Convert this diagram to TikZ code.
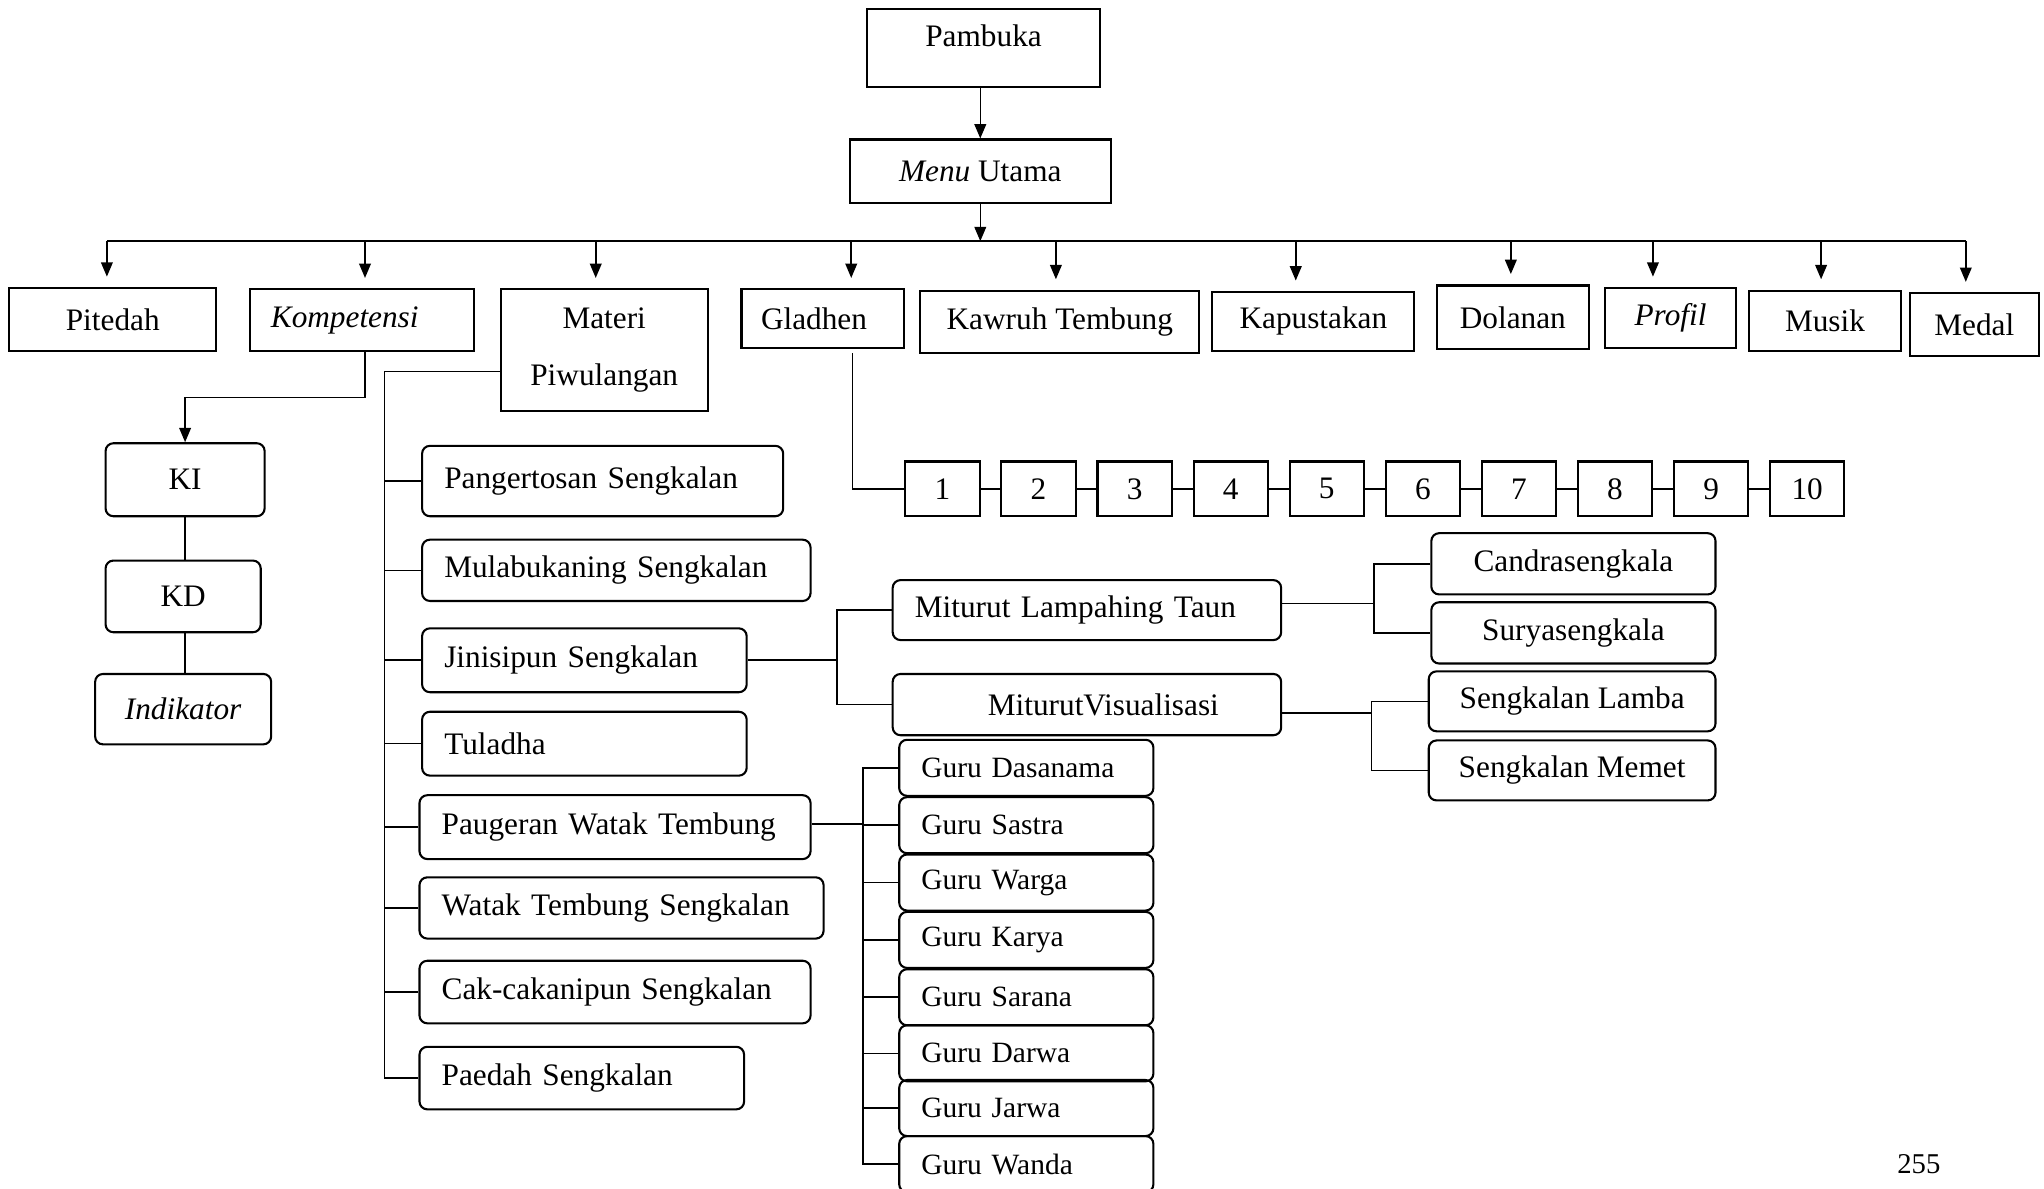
\documentclass[tikz,border=0pt]{standalone}
\usepackage{fontspec}
\setmainfont{Liberation Serif}
\usepackage{tikz}
\usetikzlibrary{
  arrows.meta,
  positioning,
  calc
}
\tikzset{
  menubox/.style={draw, line width=0.8pt, inner sep=2pt, font=\fontsize{12}{14.5}\selectfont},
  subbox/.style={menubox, rounded corners=3pt},
  leftbox/.style={subbox, anchor=west, align=left, inner xsep=8.5pt},
  gurubox/.style={leftbox, font=\fontsize{11.3}{13}\selectfont, minimum height=21.5pt, text width=80.5pt},
  numbox/.style={menubox, minimum width=28.5pt, minimum height=21pt},
  conn/.style={line width=0.6pt},
  arr/.style={conn, -{Triangle[length=5.5pt,width=4.5pt]}}
}

\begin{document}
\begin{tikzpicture}[x=0.5pt, y=-0.5pt]
\useasboundingbox (0,0) rectangle (1568,912);

% menu utama
\node[menubox, minimum width=89.5pt, text height=10pt, text depth=11pt, inner ysep=4.5pt] (pambuka) at (754.5,37) {Pambuka};
\node[menubox, minimum width=100pt, minimum height=24.5pt] (menu) at (752,131.5) {\textit{Menu} Utama};

\node[menubox, minimum width=79.5pt, minimum height=24pt] (pitedah) at (86.5,245) {Pitedah};
\node[menubox, anchor=west, align=left, inner xsep=8pt, text width=70pt, minimum height=23.5pt] (kompetensi) at (191,245.5) {\textit{Kompetensi}};
\node[menubox, minimum width=79.5pt, minimum height=46.5pt, align=center] (materi) at (463.5,268.5) {Materi\\[7pt]Piwulangan};
\node[menubox, anchor=west, align=left, inner xsep=7.5pt, text width=47.5pt, minimum height=22.5pt] (gladhen) at (568,244.5) {Gladhen};
\node[menubox, minimum width=107pt, minimum height=24pt] (kawruh) at (813,247) {Kawruh Tembung};
\node[menubox, minimum width=77.5pt, minimum height=22.5pt] (kapustakan) at (1007.5,246.5) {Kapustakan};
\node[menubox, minimum width=58.5pt, minimum height=24.5pt] (dolanan) at (1160.5,243.5) {Dolanan};
\node[menubox, minimum width=50.5pt, minimum height=23pt] (profil) at (1281.5,244) {\textit{Profil}};
\node[menubox, minimum width=58pt, minimum height=23pt] (musik) at (1400,246) {Musik};
\node[menubox, minimum width=49.5pt, minimum height=24pt] (medal) at (1514.5,249) {Medal};

\coordinate (busL) at (82,185);
\coordinate (busR) at (1508,185);
\draw[arr] (pambuka.south -| menu.north) -- (menu.north);
\draw[arr] (menu.south) -- (menu.south |- busL);
\draw[conn] (busL) -- (busR);
\foreach \n/\x in {pitedah/82, kompetensi/280, materi/457, gladhen/653, kawruh/810,
                   kapustakan/994, dolanan/1159, profil/1268, musik/1397, medal/1508}
  \draw[arr, shorten >=4pt] (\x,185) -- (\x,185 |- \n.north);

% kompetensi
\node[subbox, minimum width=61pt, minimum height=28pt] (ki) at (142,368) {KI};
\node[subbox, minimum width=59.5pt, minimum height=27.5pt] (kd) at (140.5,457.5) {KD};
\node[subbox, minimum width=67.5pt, minimum height=27pt] (indikator) at (140.5,544) {\textit{Indikator}};
\draw[arr] (kompetensi.south -| 280,0) -- ++(0,35) -| (ki.north);
\draw[conn] (ki.south) -- (ki.south |- kd.north);
\draw[conn] (ki.south |- kd.south) -- (ki.south |- indikator.north);

% materi piwulangan
\node[leftbox, text width=121.5pt, minimum height=27pt] (pangertosan) at (323,369) {Pangertosan Sengkalan};
\node[leftbox, text width=132pt, minimum height=23.5pt] (mulabukaning) at (323,437.5) {Mulabukaning Sengkalan};
\node[leftbox, text width=107.5pt, minimum height=24.5pt] (jinisipun) at (323,506.5) {Jinisipun Sengkalan};
\node[leftbox, text width=107.5pt, minimum height=24.5pt] (tuladha) at (323,570.5) {Tuladha};
\node[leftbox, text width=133pt, minimum height=24.5pt] (paugeran) at (321,634.5) {Paugeran Watak Tembung};
\node[leftbox, text width=138pt, minimum height=23.5pt] (watak) at (321,696.5) {Watak Tembung Sengkalan};
\node[leftbox, text width=133pt, minimum height=24pt] (cakcakan) at (321,761) {Cak-cakanipun Sengkalan};
\node[leftbox, text width=107.5pt, minimum height=24pt] (paedah) at (321,827) {Paedah Sengkalan};

\coordinate (mspine) at (295,285);
\draw[conn] (materi.west |- mspine) -- (mspine) |- (paedah.west);
\foreach \n in {pangertosan, mulabukaning, jinisipun, tuladha, paugeran, watak, cakcakan}
  \draw[conn] (mspine |- \n.west) -- (\n.west);

% gladhen
\foreach \i in {1,...,10}
  \node[numbox] (n\i) at ({723+73.7*(\i-1)},375) {\i};
\foreach \i [count=\j from 2] in {1,...,9}
  \draw[conn] (n\i.east) -- (n\j.west);
\draw[conn] ($(gladhen.south)+(22.5,3)$) |- (n1.west);

% jinisipun sengkalan
\node[leftbox, text width=132pt, minimum height=23pt] (lampahing) at (684,468) {Miturut Lampahing Taun};
\node[leftbox, inner xsep=36.5pt, text width=76pt, minimum height=23.5pt] (visualisasi) at (684,540.5) {MiturutVisualisasi};
\coordinate (jspine) at (642,507);
\draw[conn] (jinisipun.east) -- (jinisipun.east -| jspine);
\draw[conn] (lampahing.west) -| (jspine |- visualisasi.west) -- (visualisasi.west);

\node[subbox, minimum width=109pt, minimum height=23.5pt] (candra) at (1207,432.5) {Candrasengkala};
\node[subbox, minimum width=109pt, minimum height=23.5pt] (surya) at (1207,485.5) {Suryasengkala};
\node[subbox, minimum width=110pt, minimum height=23pt] (lamba) at (1206,538) {Sengkalan Lamba};
\node[subbox, minimum width=110pt, minimum height=23pt] (memet) at (1206,591) {Sengkalan Memet};
\coordinate (lspine) at (1054,463);
\coordinate (vspine) at (1052,547);
\draw[conn] (lampahing.east |- lspine) -- (lspine);
\draw[conn] (candra.west) -| (lspine |- surya.west) -- (surya.west);
\draw[conn] (visualisasi.east |- vspine) -- (vspine);
\draw[conn] (lamba.west) -| (vspine |- memet.west) -- (memet.west);

% paugeran watak tembung
\foreach \i/\t/\y in {1/Dasanama/589, 2/Sastra/633, 3/Warga/677, 4/Karya/721,
                      5/Sarana/765, 6/Darwa/808, 7/Jarwa/850, 8/Wanda/893}
  \node[gurubox] (guru\i) at (689,\y) {Guru \t};
\coordinate (gspine) at (662,632);
\draw[conn] (paugeran.east |- gspine) -- (gspine);
\draw[conn] (guru1.west) -| (gspine |- guru8.west) -- (guru8.west);
\foreach \i in {2,...,7}
  \draw[conn] (gspine |- guru\i.west) -- (guru\i.west);

\node[font=\fontsize{11}{13}\selectfont] (halaman) at (1472,893) {255};
\end{tikzpicture}
\end{document}
